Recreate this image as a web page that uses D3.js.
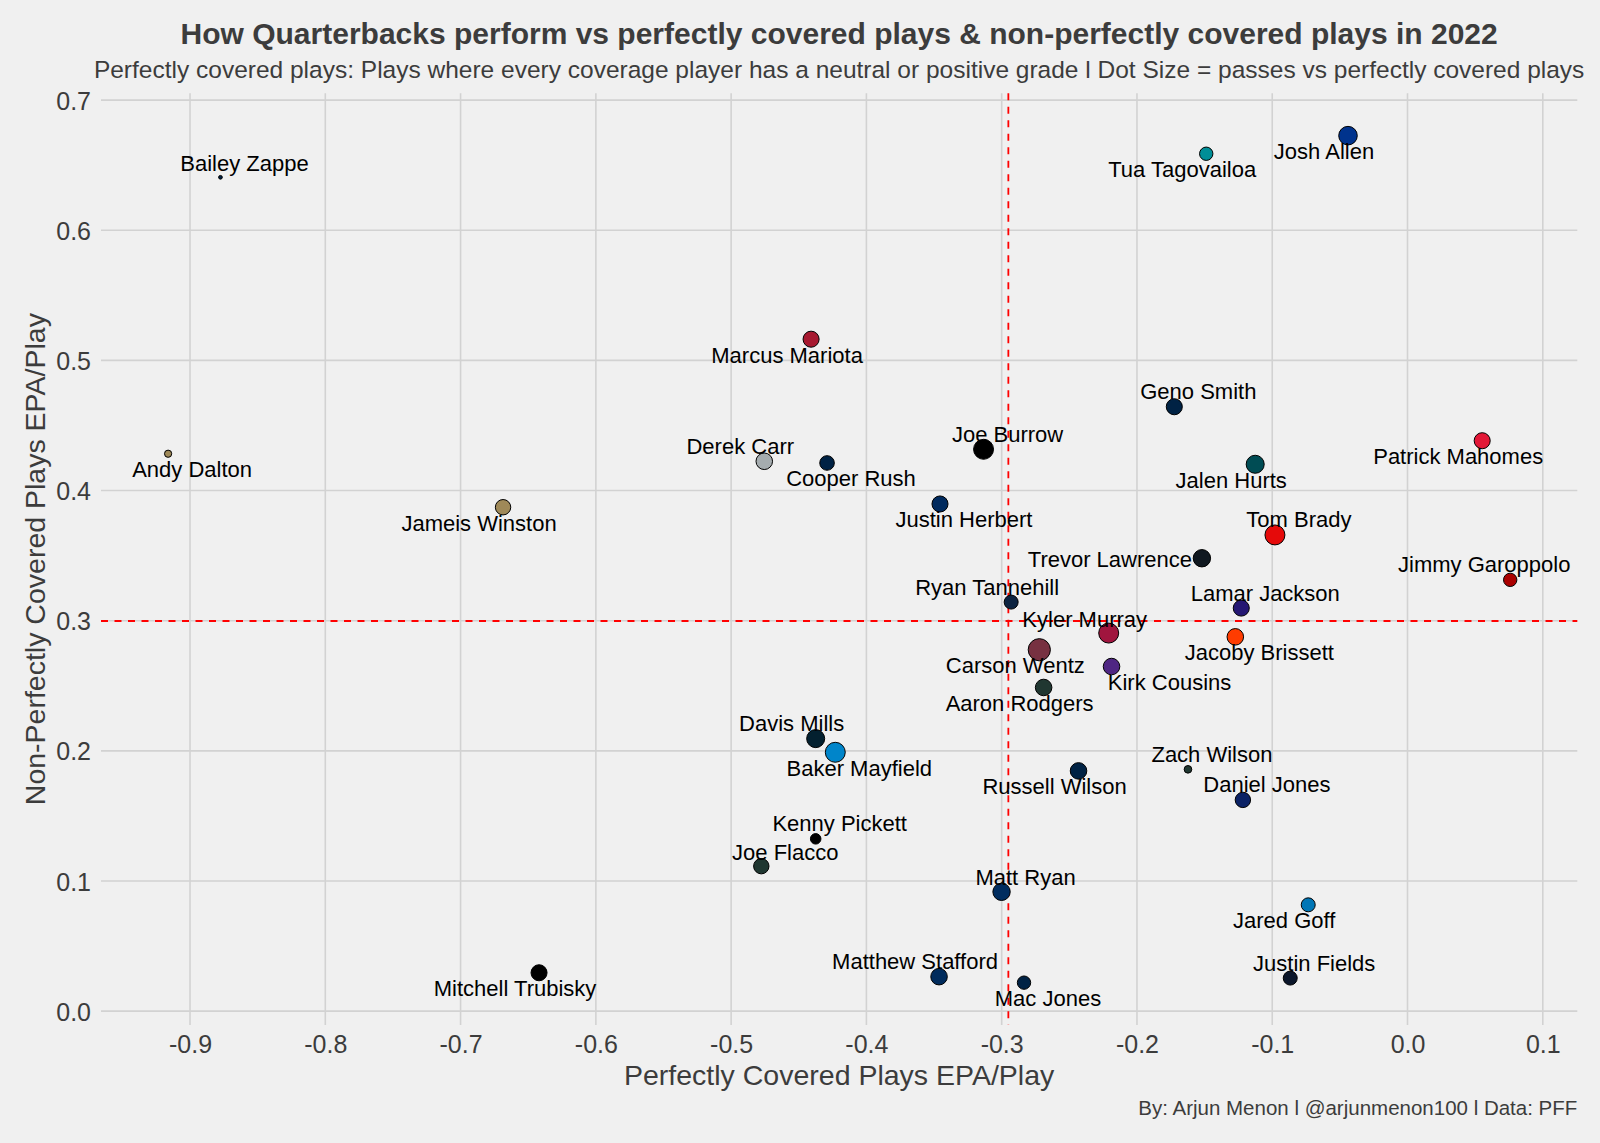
<!DOCTYPE html>
<html>
<head>
<meta charset="utf-8">
<script src="https://cdn.jsdelivr.net/npm/d3@7"></script>
<style>
  html, body { margin: 0; padding: 0; background: #f0f0f0; }
  svg { display: block; font-family: "Liberation Sans", Arial, Helvetica, sans-serif; }
</style>
</head>
<body>
<div id="chart"></div>
<script>
// QB data, 2022
const players = [
  "Bailey Zappe", "Andy Dalton", "Jameis Winston", "Mitchell Trubisky", "Marcus Mariota",
  "Derek Carr", "Cooper Rush", "Joe Burrow", "Justin Herbert", "Trevor Lawrence",
  "Ryan Tannehill", "Carson Wentz", "Kyler Murray", "Kirk Cousins", "Aaron Rodgers",
  "Tua Tagovailoa", "Josh Allen", "Geno Smith", "Jalen Hurts", "Patrick Mahomes",
  "Tom Brady", "Jimmy Garoppolo", "Lamar Jackson", "Jacoby Brissett", "Zach Wilson",
  "Daniel Jones", "Jared Goff", "Justin Fields", "Davis Mills", "Baker Mayfield",
  "Russell Wilson", "Kenny Pickett", "Joe Flacco", "Matt Ryan", "Matthew Stafford", "Mac Jones"
];
const teams = [
  "NE", "NO", "NO", "PIT", "ATL",
  "LV", "DAL", "CIN", "LAC", "JAX",
  "TEN", "WAS", "ARI", "MIN", "GB",
  "MIA", "BUF", "SEA", "PHI", "KC",
  "TB", "SF", "BAL", "CLE", "NYJ",
  "NYG", "DET", "CHI", "HOU", "CAR",
  "DEN", "PIT", "NYJ", "IND", "LA", "NE"
];
// Perfectly covered plays EPA/play
const perfectEpa = [
  -0.8775, -0.9162, -0.6686, -0.6420, -0.4409,
  -0.4755, -0.4291, -0.3134, -0.3456, -0.1520,
  -0.2930, -0.2722, -0.2209, -0.2188, -0.2690,
  -0.1488, -0.0440, -0.1724, -0.1126, 0.0552,
  -0.0980, 0.0759, -0.1229, -0.1273, -0.1623,
  -0.1217, -0.0734, -0.0867, -0.4375, -0.4230,
  -0.2432, -0.4375, -0.4777, -0.3001, -0.3463, -0.2835
];
// Non-perfectly covered plays EPA/play
const nonPerfectEpa = [
  0.6407, 0.4283, 0.3872, 0.0295, 0.5163,
  0.4225, 0.4212, 0.4317, 0.3897, 0.3480,
  0.3143, 0.2777, 0.2905, 0.2648, 0.2487,
  0.6588, 0.6727, 0.4644, 0.4202, 0.4383,
  0.3659, 0.3314, 0.3097, 0.2876, 0.1858,
  0.1623, 0.0817, 0.0254, 0.2094, 0.1989,
  0.1846, 0.1324, 0.1114, 0.0917, 0.0265, 0.0219
];
// passes vs perfectly covered plays (dot size)
const passes = [
  10, 14, 54, 59, 59,
  63, 48, 95, 59, 70,
  44, 120, 95, 63, 63,
  40, 81, 59, 76, 59,
  95, 40, 59, 63, 15,
  54, 44, 44, 76, 95,
  63, 25, 54, 70, 63, 40
];
const xTicks = [-0.9, -0.8, -0.7, -0.6, -0.5, -0.4, -0.3, -0.2, -0.1, 0.0, 0.1];
const yTicks = [0.0, 0.1, 0.2, 0.3, 0.4, 0.5, 0.6, 0.7];

const teamColors = {
  NE: "#002244", NO: "#9F8958", PIT: "#000000", ATL: "#A71930", LV: "#A5ACAF",
  DAL: "#002244", CIN: "#000000", LAC: "#002A5E", JAX: "#101820", TEN: "#0C2340",
  WAS: "#773141", ARI: "#A0153E", MIN: "#4F2683", GB: "#203731", MIA: "#008E97",
  BUF: "#00338D", SEA: "#002244", PHI: "#004C54", KC: "#E31837", TB: "#E50A0A",
  SF: "#AA0000", BAL: "#241773", CLE: "#FF3C00", NYJ: "#203731", NYG: "#0B2265",
  DET: "#0076B6", CHI: "#0B162A", HOU: "#03202F", CAR: "#0085CA", DEN: "#002244",
  IND: "#002C5F", LA: "#002B5C"
};

// label placement (pixel offset of label centre from the dot), like ggrepel left them
const labelNudge = {
  "Bailey Zappe": [24, -14], "Andy Dalton": [24, 16], "Jameis Winston": [-24, 16],
  "Mitchell Trubisky": [-24, 16], "Marcus Mariota": [-24, 16], "Derek Carr": [-24, -15],
  "Cooper Rush": [24, 16], "Joe Burrow": [24, -15], "Justin Herbert": [24, 16],
  "Trevor Lawrence": [-92, 1], "Ryan Tannehill": [-24, -15], "Carson Wentz": [-24, 16],
  "Kyler Murray": [-24, -14], "Kirk Cousins": [58, 16], "Aaron Rodgers": [-24, 16],
  "Tua Tagovailoa": [-24, 16], "Josh Allen": [-24, 16], "Geno Smith": [24, -15],
  "Jalen Hurts": [-24, 16], "Patrick Mahomes": [-24, 16], "Tom Brady": [24, -15],
  "Jimmy Garoppolo": [-26, -15], "Lamar Jackson": [24, -15], "Jacoby Brissett": [24, 16],
  "Zach Wilson": [24, -15], "Daniel Jones": [24, -15], "Jared Goff": [-24, 16],
  "Justin Fields": [24, -15], "Davis Mills": [-24, -15], "Baker Mayfield": [24, 16],
  "Russell Wilson": [-24, 16], "Kenny Pickett": [24, -15], "Joe Flacco": [24, -14],
  "Matt Ryan": [24, -14], "Matthew Stafford": [-24, -15], "Mac Jones": [24, 16]
};

const data = players.map((name, i) => ({
  name, team: teams[i], x: perfectEpa[i], y: nonPerfectEpa[i], n: passes[i]
}));

const W = 1600, H = 1143;
const panel = { left: 101, right: 1577.3, top: 93.3, bottom: 1025 };
const textCol = "#3c3c3c";

const svg = d3.select("#chart").append("svg")
  .attr("width", W).attr("height", H)
  .attr("viewBox", `0 0 ${W} ${H}`);

svg.append("rect").attr("width", W).attr("height", H).attr("fill", "#f0f0f0");

// ggplot-style 5% expansion
function expand(ext) {
  const pad = (ext[1] - ext[0]) * 0.05;
  return [ext[0] - pad, ext[1] + pad];
}
const x = d3.scaleLinear().domain(expand(d3.extent(perfectEpa))).range([panel.left, panel.right]);
const y = d3.scaleLinear().domain(expand(d3.extent(nonPerfectEpa))).range([panel.bottom, panel.top]);

// area-style size scale (size 1..6)
const nExt = d3.extent(passes);
const rScale = n => 1.85 * (1 + 5 * Math.sqrt((n - nExt[0]) / (nExt[1] - nExt[0])));

// plain hyphen for negatives, like R prints them
const fmt = d3.formatLocale({ decimal: ".", thousands: ",", grouping: [3], currency: ["", ""], minus: "-" }).format(".1f");
const tickFmt = d => fmt(Math.abs(d) < 1e-9 ? 0 : d);

// grid
const gGrid = svg.append("g");
gGrid.selectAll("line.vg").data(xTicks).enter().append("line")
  .attr("x1", d => x(d)).attr("x2", d => x(d))
  .attr("y1", panel.top).attr("y2", panel.bottom)
  .attr("stroke", "#d2d2d2").attr("stroke-width", 1.6);
gGrid.selectAll("line.hg").data(yTicks).enter().append("line")
  .attr("y1", d => y(d)).attr("y2", d => y(d))
  .attr("x1", panel.left).attr("x2", panel.right)
  .attr("stroke", "#d2d2d2").attr("stroke-width", 1.6);

// axes (labels only, no lines or ticks)
const xAxis = svg.append("g")
  .attr("transform", `translate(0,${panel.bottom})`)
  .call(d3.axisBottom(x).tickValues(xTicks).tickFormat(tickFmt).tickSize(0).tickPadding(0));
xAxis.select(".domain").remove();
xAxis.selectAll("text")
  .attr("y", 28).attr("dy", null)
  .attr("font-size", 25).attr("fill", textCol)
  .style("font-family", "'Liberation Sans', Arial, Helvetica, sans-serif");

const yAxis = svg.append("g")
  .attr("transform", `translate(${panel.left},0)`)
  .call(d3.axisLeft(y).tickValues(yTicks).tickFormat(tickFmt).tickSize(0).tickPadding(0));
yAxis.select(".domain").remove();
yAxis.selectAll("text")
  .attr("x", -10).attr("dy", "0.36em")
  .attr("font-size", 25).attr("fill", textCol)
  .style("font-family", "'Liberation Sans', Arial, Helvetica, sans-serif");

// mean reference lines
const meanX = d3.mean(perfectEpa), meanY = d3.mean(nonPerfectEpa);
svg.append("line")
  .attr("x1", x(meanX)).attr("x2", x(meanX))
  .attr("y1", panel.top).attr("y2", panel.bottom)
  .attr("stroke", "#ff0000").attr("stroke-width", 1.8).attr("stroke-dasharray", "7,6.5");
svg.append("line")
  .attr("x1", panel.left).attr("x2", panel.right)
  .attr("y1", y(meanY)).attr("y2", y(meanY))
  .attr("stroke", "#ff0000").attr("stroke-width", 1.8).attr("stroke-dasharray", "7,6.5");

// points
svg.append("g").selectAll("circle").data(data).enter().append("circle")
  .attr("cx", d => x(d.x)).attr("cy", d => y(d.y))
  .attr("r", d => rScale(d.n))
  .attr("fill", d => teamColors[d.team])
  .attr("stroke", "#000").attr("stroke-width", 1);

// labels
svg.append("g").selectAll("text").data(data).enter().append("text")
  .attr("x", d => x(d.x) + labelNudge[d.name][0])
  .attr("y", d => y(d.y) + labelNudge[d.name][1] + 7.5)
  .attr("text-anchor", "middle")
  .attr("font-size", 22).attr("fill", "#000")
  .text(d => d.name);

// titles
const cx = (panel.left + panel.right) / 2;
svg.append("text").attr("x", cx).attr("y", 44).attr("text-anchor", "middle")
  .attr("font-size", 30).attr("font-weight", "bold").attr("fill", textCol)
  .text("How Quarterbacks perform vs perfectly covered plays & non-perfectly covered plays in 2022");
svg.append("text").attr("x", cx).attr("y", 78).attr("text-anchor", "middle")
  .attr("font-size", 24.5).attr("fill", textCol)
  .text("Perfectly covered plays: Plays where every coverage player has a neutral or positive grade l Dot Size = passes vs perfectly covered plays");

svg.append("text").attr("x", cx).attr("y", 1085).attr("text-anchor", "middle")
  .attr("font-size", 28.5).attr("fill", textCol)
  .text("Perfectly Covered Plays EPA/Play");
svg.append("text")
  .attr("transform", `translate(45,${(panel.top + panel.bottom) / 2}) rotate(-90)`)
  .attr("text-anchor", "middle")
  .attr("font-size", 28.5).attr("fill", textCol)
  .text("Non-Perfectly Covered Plays EPA/Play");

svg.append("text").attr("x", panel.right).attr("y", 1115).attr("text-anchor", "end")
  .attr("font-size", 20.5).attr("fill", textCol)
  .text("By: Arjun Menon l @arjunmenon100 l Data: PFF");
</script>
</body>
</html>
